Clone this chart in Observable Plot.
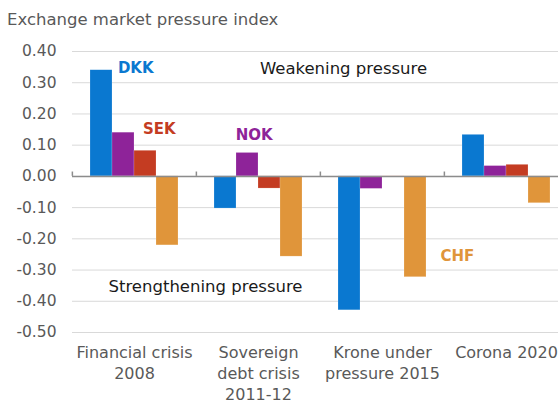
<!DOCTYPE html>
<html>
<head>
<meta charset="utf-8">
<script src="https://cdn.jsdelivr.net/npm/d3@7"></script>
<script src="https://cdn.jsdelivr.net/npm/@observablehq/plot@0.6"></script>
<style>
  html, body { margin: 0; padding: 0; background: #fff; overflow: hidden; }
  #title { font-family: "DejaVu Sans", sans-serif; font-size: 16.5px; color: #595959; padding: 10px 0 0 7px; line-height: 20px; height: 20px; white-space: nowrap; }
  svg { overflow: hidden; }
</style>
</head>
<body>
<div id="title">Exchange market pressure index</div>
<div id="chart"></div>
<script>
const groups = ["Financial crisis\n2008", "Sovereign\ndebt crisis\n2011-12", "Krone under\npressure 2015", "Corona 2020"];
const currencies = ["DKK", "NOK", "SEK", "CHF"];
const colors = ["#0a78d0", "#8e2399", "#c43c22", "#e0953a"];
const dkk = [0.340, -0.103, -0.429, 0.133];
const nok = [0.140, 0.075, -0.040, 0.033];
const sek = [0.082, -0.039, -0.003, 0.037];
const chf = [-0.221, -0.257, -0.323, -0.086];
const yTicks = [-0.5, -0.4, -0.3, -0.2, -0.1, 0, 0.1, 0.2, 0.3, 0.4];
const yTickLabels = ["-0.50", "-0.40", "-0.30", "-0.20", "-0.10", "0.00", "0.10", "0.20", "0.30", "0.40"];

// currency labels: group index, anchor currency band, y value
const labelText = ["DKK", "SEK", "NOK", "CHF"];
const labelGroup = [0, 0, 1, 2];
const labelBand = ["NOK", "SEK", "NOK", "CHF"];
const labelY = [0.348, 0.150, 0.132, -0.257];
const labelDx = [-5.6, -2.6, -11.8, 25];
const labelColor = ["#0a78d0", "#c43c22", "#8e2399", "#e0953a"];

// annotation texts
const noteText = ["Weakening pressure", "Strengthening pressure"];
const noteGroup = [2, 0];
const noteBand = ["DKK", "CHF"];
const noteY = [0.346, -0.353];
const noteDx = [-6, 38];

const series = [dkk, nok, sek, chf];
const table = [];
groups.forEach((g, gi) => currencies.forEach((c, ci) => table.push({group: g, currency: c, value: series[ci][gi]})));
const labels = labelText.map((t, i) => ({text: t, group: groups[labelGroup[i]], band: labelBand[i], y: labelY[i], dx: labelDx[i], color: labelColor[i]}));
const notes = noteText.map((t, i) => ({text: t, group: groups[noteGroup[i]], band: noteBand[i], y: noteY[i], dx: noteDx[i]}));

const W = 558, ML = 71, MR = -10;
const step = (W - ML - MR) / groups.length;
const font = "DejaVu Sans, sans-serif";

const chart = Plot.plot({
  width: W,
  height: 373,
  marginLeft: ML,
  marginRight: MR,
  marginTop: 21,
  marginBottom: 71,
  style: {fontFamily: font, fontSize: "15px", color: "#595959", background: "#fff"},
  fx: {domain: groups, padding: 0, label: null},
  x: {domain: currencies, paddingInner: 0, paddingOuter: 0.7, axis: null},
  y: {domain: [-0.5, 0.4], axis: null},
  color: {domain: currencies, range: colors},
  marks: [
    Plot.gridY(yTicks, {stroke: "#d9d9d9", strokeOpacity: 1, strokeWidth: 1}),
    Plot.axisY(yTicks, {tickSize: 0, tickPadding: 16, tickFormat: d => yTickLabels[yTicks.indexOf(d)], fill: "#595959", fontSize: 15.5, label: null}),
    Plot.axisFx({anchor: "bottom", tickSize: 0, tickPadding: 11, fontSize: 16, lineHeight: 1.3, fill: "#595959", label: null}),
    Plot.barY(table, {fx: "group", x: "currency", y: "value", fill: "currency", stroke: "#ffffff", strokeOpacity: 0.35, strokeWidth: 0.5}),
    Plot.ruleY([0], {stroke: "#8c8c8c", strokeWidth: 1.5}),
    Plot.ruleX(groups, {fx: d => d, x: null, y1: 0, y2: 0.014, dx: -step / 2, stroke: "#8c8c8c", strokeWidth: 1.5}),
    ...labels.map(l => Plot.text([l], {fx: "group", x: "band", y: "y", text: "text", dx: l.dx, fill: l.color, fontWeight: "bold", fontSize: 15, textAnchor: "start"})),
    ...notes.map(n => Plot.text([n], {fx: "group", x: "band", y: "y", text: "text", dx: n.dx, fill: "#1a1a1a", fontSize: 16.5, textAnchor: "middle"}))
  ]
});
document.getElementById("chart").appendChild(chart);
</script>
</body>
</html>
